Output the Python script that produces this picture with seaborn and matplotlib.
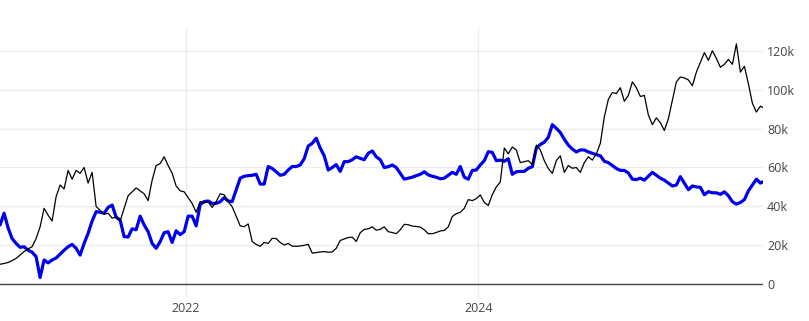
import pandas as pd
import matplotlib
matplotlib.use("Agg")
import matplotlib.pyplot as plt
import seaborn as sns

# ---- data (values in thousands) ----
start_date = "2020-09-23"
step = "10D"

black_k = [
    10.3, 10.7, 11.2, 12.2, 13.3, 15.0, 16.8, 18.2, 19.3, 23.5, 29.5, 39.0, 35.5, 32.5, 45.0, 51.0,
    49.0, 58.5, 54.0, 58.5, 57.0, 60.0, 52.0, 57.5, 40.0, 38.0, 36.0, 36.5, 34.0, 34.5, 32.5, 39.0,
    45.5, 47.5, 49.5, 48.0, 46.5, 43.0, 53.5, 61.0, 62.0, 65.5, 61.0, 57.0, 50.5, 48.0, 47.5, 44.5,
    41.5, 37.0, 42.5, 41.8, 42.4, 39.5, 42.5, 46.5, 46.0, 42.5, 39.8, 35.0, 30.0, 29.6, 31.0, 22.0,
    20.5, 19.5, 21.5, 21.0, 23.6, 23.5, 21.5, 20.2, 21.0, 19.6, 19.5, 19.7, 20.0, 20.5, 16.0, 16.3,
    16.6, 16.8, 16.5, 16.6, 18.5, 22.5, 23.3, 24.0, 24.2, 22.0, 26.5, 28.2, 28.5, 29.5, 27.8, 28.2,
    29.5, 27.0, 26.6, 26.0, 28.0, 30.8, 30.6, 29.9, 29.7, 29.4, 28.0, 26.0, 26.0, 26.6, 27.4, 27.7,
    29.5, 34.8, 36.3, 37.0, 39.0, 43.5, 43.0, 44.0, 45.9, 42.0, 40.5, 46.0, 50.0, 52.5, 70.0, 67.0,
    70.5, 69.0, 62.5, 63.0, 63.5, 61.5, 71.5, 69.0, 63.5, 59.5, 57.0, 63.5, 66.0, 57.5, 61.0, 59.6,
    60.0, 57.5, 62.5, 65.5, 63.8, 67.0, 72.4, 86.0, 95.0, 98.5, 98.0, 101.0, 94.0, 97.0, 104.0, 101.0,
    96.5, 97.0, 87.0, 82.0, 85.5, 83.0, 79.0, 85.0, 94.5, 104.0, 106.5, 106.0, 105.0, 102.0, 109.0, 114.0,
    119.0, 115.0, 120.0, 116.0, 111.5, 113.0, 115.5, 113.0, 123.5, 109.0, 112.0, 103.0, 93.0, 88.5, 91.5, 90.5,
]

blue_k = [
    30.5, 36.5, 29.0, 23.5, 21.0, 19.0, 19.3, 17.5, 16.5, 14.2, 3.5, 12.5, 11.0, 12.5, 13.5, 15.5,
    17.5, 19.3, 20.5, 18.5, 15.0, 21.0, 26.2, 32.5, 37.3, 37.0, 36.5, 39.5, 40.7, 34.5, 33.0, 24.5,
    24.3, 28.5, 28.0, 35.0, 30.5, 27.0, 21.0, 18.5, 21.9, 26.5, 27.0, 21.5, 27.5, 25.5, 27.0, 35.0,
    35.0, 30.0, 41.0, 42.5, 42.8, 41.5, 41.6, 42.4, 44.5, 42.8, 42.5, 48.5, 54.5, 55.5, 55.8, 56.0,
    56.5, 51.5, 51.5, 60.5, 59.5, 57.8, 56.0, 56.5, 58.7, 60.5, 60.5, 61.3, 64.5, 71.0, 72.4, 75.0,
    70.0, 66.0, 58.7, 60.0, 61.5, 58.0, 63.0, 63.0, 64.0, 65.5, 64.7, 64.0, 67.3, 68.5, 65.5, 64.0,
    60.0, 60.4, 61.3, 60.0, 57.0, 54.0, 54.5, 55.0, 55.8, 56.5, 57.8, 56.2, 55.5, 55.0, 54.2, 54.5,
    56.0, 57.5, 56.5, 60.5, 55.0, 54.0, 58.5, 58.7, 61.3, 63.5, 68.1, 67.8, 63.5, 63.8, 63.2, 64.5,
    56.5, 57.8, 58.0, 58.0, 59.6, 60.4, 70.0, 71.8, 73.0, 75.5, 82.0, 80.1, 78.0, 74.5, 71.5, 69.5,
    68.0, 69.0, 69.0, 68.0, 67.3, 66.6, 66.0, 63.2, 62.5, 61.0, 59.5, 58.5, 58.5, 57.2, 54.0, 53.8,
    54.5, 53.5, 55.5, 57.5, 56.0, 54.5, 53.5, 52.0, 50.5, 51.0, 55.3, 52.0, 48.6, 50.5, 50.0, 49.8,
    46.0, 47.6, 47.0, 47.0, 46.2, 47.5, 45.5, 42.4, 41.2, 42.0, 43.5, 48.0, 51.0, 54.0, 52.0, 53.0,
]

ytick_vals = [0, 20, 40, 60, 80, 100, 120]
ytick_labels = ["0", "20k", "40k", "60k", "80k", "100k", "120k"]
xtick_dates = ["2022-01-01", "2024-01-01"]
xtick_labels = ["2022", "2024"]

# ---- style ----
sns.set_theme(style="white")
plt.rcParams["font.family"] = ["Open Sans", "DejaVu Sans"]

df_blue = pd.DataFrame({"date": pd.date_range(start_date, periods=len(blue_k), freq=step),
                        "value": blue_k})
df_black = pd.DataFrame({"date": pd.date_range(start_date, periods=len(black_k), freq=step),
                         "value": black_k})

W, H = 809, 321
fig = plt.figure(figsize=(W / 100, H / 100), dpi=100)
ax = fig.add_axes([0, 23 / H, 763 / W, 270 / H])

sns.lineplot(data=df_blue, x="date", y="value", color="#0000ee", linewidth=2.3,
             estimator=None, ax=ax, zorder=3)
sns.lineplot(data=df_black, x="date", y="value", color="black", linewidth=0.9,
             estimator=None, ax=ax, zorder=4)

ax.set_xlim(pd.Timestamp("2020-09-22 19:00"), pd.Timestamp("2025-12-12 12:00"))
ax.set_ylim(-7.04, 131.66)

ax.set_yticks(ytick_vals)
ax.set_yticklabels(ytick_labels)
ax.set_xticks([pd.Timestamp(d) for d in xtick_dates])
ax.set_xticklabels(xtick_labels)

ax.yaxis.tick_right()
ax.tick_params(axis="y", length=0, pad=3, labelsize=9, labelcolor="#444444")
ax.tick_params(axis="x", length=0, pad=3, labelsize=9, labelcolor="#444444")

ax.grid(True, color="#ebebeb", linewidth=0.9, zorder=0)
ax.set_axisbelow(True)
ax.axhline(0, color="#444444", linewidth=1.0, zorder=2)

for s in ax.spines.values():
    s.set_visible(False)
ax.set_xlabel("")
ax.set_ylabel("")

fig.savefig("out.png", dpi=100)
